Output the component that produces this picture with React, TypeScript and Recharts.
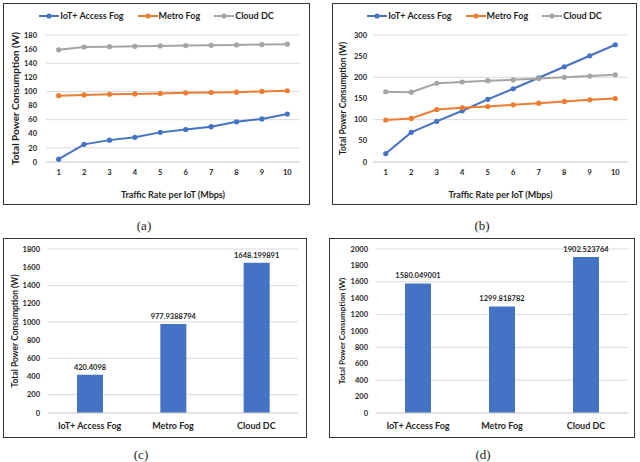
import React from "react";
import {
  LineChart,
  Line,
  BarChart,
  Bar,
  XAxis,
  YAxis,
  CartesianGrid,
  Legend,
  LabelList,
} from "recharts";

// traffic rate per IoT (Mbps)
const rates = [1, 2, 3, 4, 5, 6, 7, 8, 9, 10];
const seriesNames = ["IoT+ Access Fog", "Metro Fog", "Cloud DC"];

// (a)
const iotFogA = [4, 25, 31, 35, 42, 46, 50, 57, 61, 68];
const metroFogA = [94, 95, 96, 96.5, 97, 98, 98.5, 99, 100, 101];
const cloudDcA = [159, 163, 163.5, 164, 164.5, 165, 165.5, 166, 166.5, 167];
const ticksA = [0, 20, 40, 60, 80, 100, 120, 140, 160, 180];

// (b)
const iotFogB = [20, 70, 96, 121, 148, 173, 199, 225, 251, 277];
const metroFogB = [99, 103, 124, 128, 131, 135, 139, 143, 147, 150];
const cloudDcB = [166, 165, 186, 189, 192, 194, 197, 200, 203, 206];
const ticksB = [0, 50, 100, 150, 200, 250, 300];

// (c), (d)
const layers = ["IoT+ Access Fog", "Metro Fog", "Cloud DC"];
const totalsC = [420.4098, 977.9388794, 1648.199891];
const totalsD = [1580.049001, 1299.818782, 1902.523764];
const ticksC = [0, 200, 400, 600, 800, 1000, 1200, 1400, 1600, 1800];
const ticksD = [0, 200, 400, 600, 800, 1000, 1200, 1400, 1600, 1800, 2000];

const BLUE = "#4472C4";
const ORANGE = "#ED7D31";
const GRAY = "#A5A5A5";
const TXT = "#1f1f1f";
const FONT = "Lato, 'Open Sans', sans-serif";

const toRows = (a: number[], b: number[], c: number[]) =>
  rates.map((r, i) => ({ rate: r, iot: a[i], metro: b[i], cloud: c[i] }));

const LegendContent = (props: any) => {
  const items = [...(props.payload || [])].sort(
    (p: any, q: any) => seriesNames.indexOf(p.value) - seriesNames.indexOf(q.value)
  );
  return (
    <div style={{ display: "flex", justifyContent: "center", alignItems: "center", fontFamily: FONT }}>
      {items.map((it: any, i: number) => (
        <div key={i} style={{ display: "flex", alignItems: "center", marginRight: i < items.length - 1 ? 14 : 0 }}>
          <svg width={20} height={8}>
            <line x1={0} y1={4} x2={20} y2={4} stroke={it.color} strokeWidth={2} />
            <circle cx={10} cy={4} r={2.6} fill={it.color} />
          </svg>
          <span style={{ fontSize: 9, fontWeight: 700, color: TXT, marginLeft: 1 }}>{it.value}</span>
        </div>
      ))}
    </div>
  );
};

type LineProps = {
  a: number[];
  b: number[];
  c: number[];
  ticks: number[];
  left: number;
  yWidth: number;
  right: number;
  yTickMargin: number;
  yLabelSize: number;
  boxLeft: number;
  boxWidth: number;
};

function RatePanel({ a, b, c, ticks, left, yWidth, right, yTickMargin, yLabelSize, boxLeft, boxWidth }: LineProps) {
  const data = toRows(a, b, c);
  const max = ticks[ticks.length - 1];
  return (
    <LineChart width={320} height={210} data={data} margin={{ top: 35, right, left, bottom: 8 }}>
      <CartesianGrid vertical={false} stroke="#d9d9d9" />
      <XAxis
        dataKey="rate"
        type="number"
        domain={[0.5, 10.5]}
        ticks={rates}
        height={40}
        tickSize={0}
        tickMargin={8}
        axisLine={{ stroke: "#d9d9d9" }}
        tick={{ fontSize: 7.5, fontWeight: 700, fill: TXT, fontFamily: FONT }}
        label={{
          value: "Traffic Rate per IoT (Mbps)",
          position: "insideBottom",
          offset: 4,
          style: { fontSize: 9, fontWeight: 700, fill: TXT, fontFamily: FONT },
        }}
      />
      <YAxis
        domain={[0, max]}
        ticks={ticks}
        width={yWidth}
        tickSize={0}
        tickMargin={yTickMargin}
        axisLine={false}
        tick={{ fontSize: 7.5, fontWeight: 700, fill: TXT, fontFamily: FONT }}
        label={{
          value: "Total Power Consumption (W)",
          angle: -90,
          position: "insideLeft",
          offset: 5,
          style: { textAnchor: "middle", fontSize: yLabelSize, fontWeight: 700, fill: TXT, fontFamily: FONT },
        }}
      />
      <Legend
        layout="horizontal"
        verticalAlign="middle"
        align="center"
        content={LegendContent}
        wrapperStyle={{ top: 10, left: boxLeft, width: boxWidth }}
      />
      <Line dataKey="iot" name={seriesNames[0]} stroke={BLUE} strokeWidth={2} dot={{ r: 2.6, fill: BLUE, stroke: BLUE, strokeWidth: 0 }} isAnimationActive={false} />
      <Line dataKey="metro" name={seriesNames[1]} stroke={ORANGE} strokeWidth={2} dot={{ r: 2.6, fill: ORANGE, stroke: ORANGE, strokeWidth: 0 }} isAnimationActive={false} />
      <Line dataKey="cloud" name={seriesNames[2]} stroke={GRAY} strokeWidth={2} dot={{ r: 2.6, fill: GRAY, stroke: GRAY, strokeWidth: 0 }} isAnimationActive={false} />
    </LineChart>
  );
}

type BarProps = {
  values: number[];
  ticks: number[];
  left: number;
  yWidth: number;
  right: number;
  yLabelSize: number;
};

function TotalPanel({ values, ticks, left, yWidth, right, yLabelSize }: BarProps) {
  const data = layers.map((l, i) => ({ layer: l, total: values[i] }));
  const max = ticks[ticks.length - 1];
  return (
    <BarChart width={320} height={210} data={data} margin={{ top: 19, right, left, bottom: 2 }}>
      <CartesianGrid vertical={false} stroke="#d9d9d9" />
      <XAxis
        dataKey="layer"
        height={25}
        tickSize={0}
        tickMargin={10}
        axisLine={{ stroke: "#d9d9d9" }}
        tick={{ fontSize: 9, fontWeight: 700, fill: TXT, fontFamily: FONT }}
      />
      <YAxis
        domain={[0, max]}
        ticks={ticks}
        width={yWidth}
        tickSize={0}
        tickMargin={8}
        axisLine={false}
        tick={{ fontSize: 7.5, fontWeight: 700, fill: TXT, fontFamily: FONT }}
        label={{
          value: "Total Power Consumption (W)",
          angle: -90,
          position: "insideLeft",
          offset: 5,
          style: { textAnchor: "middle", fontSize: yLabelSize, fontWeight: 700, fill: TXT, fontFamily: FONT },
        }}
      />
      <Bar dataKey="total" fill={BLUE} barSize={26} isAnimationActive={false}>
        <LabelList
          dataKey="total"
          position="top"
          offset={5}
          style={{ fontSize: 7.5, fontWeight: 700, fill: TXT, fontFamily: FONT }}
        />
      </Bar>
    </BarChart>
  );
}

const box = (l: number, t: number, r: number, b: number): React.CSSProperties => ({
  position: "absolute",
  left: l,
  top: t,
  width: r - l,
  height: b - t,
  border: "1.5px solid #333",
  boxSizing: "border-box",
  pointerEvents: "none",
});

const caption = (x: number, y: number): React.CSSProperties => ({
  position: "absolute",
  left: x - 20,
  top: y - 9,
  width: 40,
  textAlign: "center",
  fontFamily: "'Liberation Serif', 'DejaVu Serif', serif",
  fontSize: 13,
  lineHeight: "18px",
  color: "#222",
});

export default function App() {
  return (
    <div style={{ position: "absolute", left: 0, top: 0, width: 640, height: 462, background: "#fff", overflow: "hidden" }}>
      <div style={{ position: "absolute", left: 0, top: 0 }}>
        <RatePanel a={iotFogA} b={metroFogA} c={cloudDcA} ticks={ticksA} left={10} yWidth={36} right={20} yTickMargin={9} yLabelSize={10} boxLeft={3} boxWidth={307} />
      </div>
      <div style={{ position: "absolute", left: 320, top: 0 }}>
        <RatePanel a={iotFogB} b={metroFogB} c={cloudDcB} ticks={ticksB} left={18} yWidth={35} right={12} yTickMargin={6} yLabelSize={8.5} boxLeft={12} boxWidth={305} />
      </div>
      <div style={{ position: "absolute", left: 0, top: 230 }}>
        <TotalPanel values={totalsC} ticks={ticksC} left={10} yWidth={38} right={22} yLabelSize={8.5} />
      </div>
      <div style={{ position: "absolute", left: 320, top: 230 }}>
        <TotalPanel values={totalsD} ticks={ticksD} left={17} yWidth={39} right={12} yLabelSize={8} />
      </div>

      <div style={box(3, 3, 310, 205)} />
      <div style={box(332, 3, 637, 205)} />
      <div style={box(3, 238, 307, 438)} />
      <div style={box(329, 238, 635, 438)} />

      <div style={caption(144, 226)}>(a)</div>
      <div style={caption(482, 226)}>(b)</div>
      <div style={caption(141, 455)}>(c)</div>
      <div style={caption(483, 455)}>(d)</div>
    </div>
  );
}
